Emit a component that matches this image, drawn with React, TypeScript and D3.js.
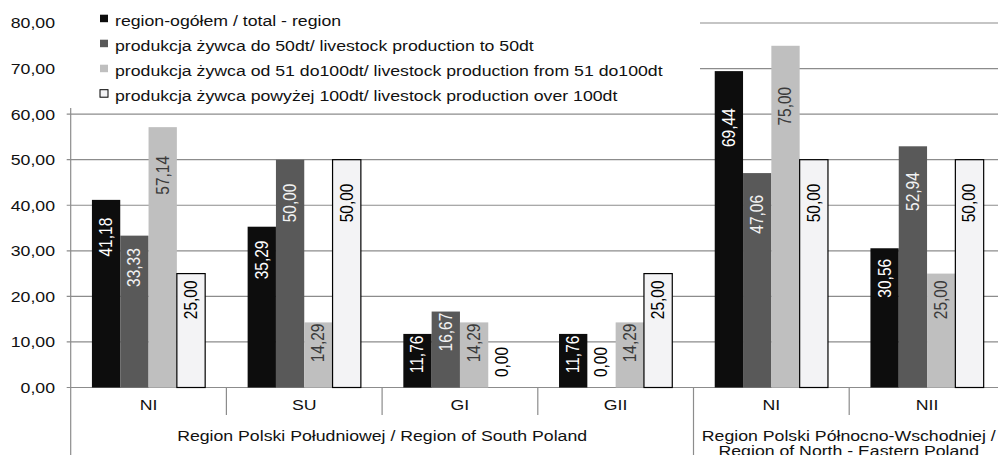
import * as d3 from "d3";

// categories along the x axis (index based, "NI" appears twice)
const categories = ["NI", "SU", "GI", "GII", "NI", "NII"];
const regionNames = [
  ["Region Polski Południowej / Region of South Poland"],
  ["Region Polski Północno-Wschodniej /", "Region of North - Eastern Poland"],
];
const regionSizes = [4, 2];

const seriesNames = [
  "region-ogółem / total - region",
  "produkcja żywca do 50dt/ livestock production to 50dt",
  "produkcja żywca od 51 do100dt/ livestock production from 51 do100dt",
  "produkcja żywca powyżej 100dt/ livestock production over 100dt",
];

const total = [41.18, 35.29, 11.76, 11.76, 69.44, 30.56];
const to50 = [33.33, 50.0, 16.67, 0.0, 47.06, 52.94];
const from51 = [57.14, 14.29, 14.29, 14.29, 75.0, 25.0];
const over100 = [25.0, 50.0, 0.0, 25.0, 50.0, 50.0];

const yTicks = [0, 10, 20, 30, 40, 50, 60, 70, 80];

const W = 998;
const H = 455;
const SX = 1.18; // the source picture is stretched sideways
const FONT = "'Liberation Sans', Arial, sans-serif";
const barFill = ["#0d0d0d", "#595959", "#bfbfbf", "#f3f3f5"];
const labelFill = ["#ffffff", "#f2f2f2", "#3a3a3a", "#000000"];
const gridColor = "#8c8c8c";

const fmt = (v: number) => d3.format(".2f")(v).replace(".", ",");
const st = (x: number, y: number, rot = false) =>
  `translate(${x},${y}) scale(${SX},1)${rot ? " rotate(-90)" : ""}`;
// where a value label sits inside its bar (in data units)
const labelAt = (v: number) => Math.max(5.6, Math.min(v * 0.85 - 2, v - 4.5));

export default function App() {
  const series = [total, to50, from51, over100];
  const left = 70.7;
  const step = 155.7;
  const right = left + step * categories.length;

  const x0 = d3
    .scaleBand<number>()
    .domain(d3.range(categories.length))
    .range([left, right]);
  const x1 = d3
    .scaleBand<number>()
    .domain(d3.range(series.length))
    .range([0, x0.bandwidth()])
    .paddingOuter(0.75);
  const y = d3.scaleLinear().domain([0, 80]).range([387.5, 23]);

  const regionEdges = [0, ...d3.cumsum(regionSizes)];
  const edgeX = (i: number) => (i >= categories.length ? right : x0(i)!);

  return (
    <svg
      width={W}
      height={H}
      style={{ position: "absolute", left: 0, top: 0, background: "#fff" }}
      fontFamily={FONT}
    >
      {/* grid + ticks */}
      {yTicks.map((t) => (
        <g key={t}>
          <line x1={66.7} x2={W} y1={y(t)} y2={y(t)} stroke={gridColor} strokeWidth={1.2} />
          <text
            transform={st(55, y(t))}
            textAnchor="end"
            dominantBaseline="central"
            fontSize={15}
            fill="#111"
          >
            {fmt(t)}
          </text>
        </g>
      ))}

      {/* bars */}
      {categories.map((c, i) => (
        <g key={i} transform={`translate(${x0(i)},0)`}>
          {series.map((vals, s) => {
            const v = vals[i];
            return v > 0 ? (
              <rect
                key={s}
                x={x1(s)}
                y={y(v)}
                width={x1.bandwidth()}
                height={y(0) - y(v)}
                fill={barFill[s]}
                stroke={s === 3 ? "#000" : "none"}
                strokeWidth={1.2}
              />
            ) : null;
          })}
        </g>
      ))}

      {/* y axis and category separators */}
      <line x1={left} x2={left} y1={0} y2={H} stroke={gridColor} strokeWidth={1.2} />
      {categories.map((c, i) =>
        i === 0 ? null : (
          <line
            key={i}
            x1={x0(i)}
            x2={x0(i)}
            y1={y(0)}
            y2={regionEdges.includes(i) ? H : 415}
            stroke={gridColor}
            strokeWidth={1.2}
          />
        )
      )}

      {/* bar labels */}
      {categories.map((c, i) => (
        <g key={i} transform={`translate(${x0(i)},0)`}>
          {series.map((vals, s) => {
            const v = vals[i];
            const cx = x1(s)! + x1.bandwidth() / 2;
            return (
              <text
                key={s}
                transform={st(cx, y(labelAt(v)), true)}
                textAnchor="middle"
                dominantBaseline="central"
                fontSize={15.5}
                fill={v > 0 ? labelFill[s] : "#000"}
              >
                {fmt(v)}
              </text>
            );
          })}
        </g>
      ))}

      {/* category labels */}
      {categories.map((c, i) => (
        <text
          key={i}
          transform={st(x0(i)! + x0.bandwidth() / 2, 410)}
          textAnchor="middle"
          fontSize={15}
          fill="#111"
        >
          {c}
        </text>
      ))}
      {regionNames.map((lines, r) => {
        const cx = (edgeX(regionEdges[r]) + Math.min(edgeX(regionEdges[r + 1]), W + 6)) / 2;
        return lines.map((ln, k) => (
          <text
            key={`${r}-${k}`}
            transform={st(cx, 440.5 + k * 15.5)}
            textAnchor="middle"
            fontSize={15}
            fill="#111"
          >
            {ln}
          </text>
        ));
      })}

      {/* legend */}
      <rect x={60} y={0} width={640} height={108} fill="#fff" />
      {seriesNames.map((name, s) => {
        const base = 25.7 + s * 25;
        return (
          <g key={s}>
            <rect
              x={100}
              y={base - 11}
              width={8}
              height={7.5}
              fill={barFill[s]}
              stroke={s === 3 ? "#000" : "none"}
              strokeWidth={1}
            />
            <text transform={st(115, base)} fontSize={15} fill="#111">
              {name}
            </text>
          </g>
        );
      })}
    </svg>
  );
}
